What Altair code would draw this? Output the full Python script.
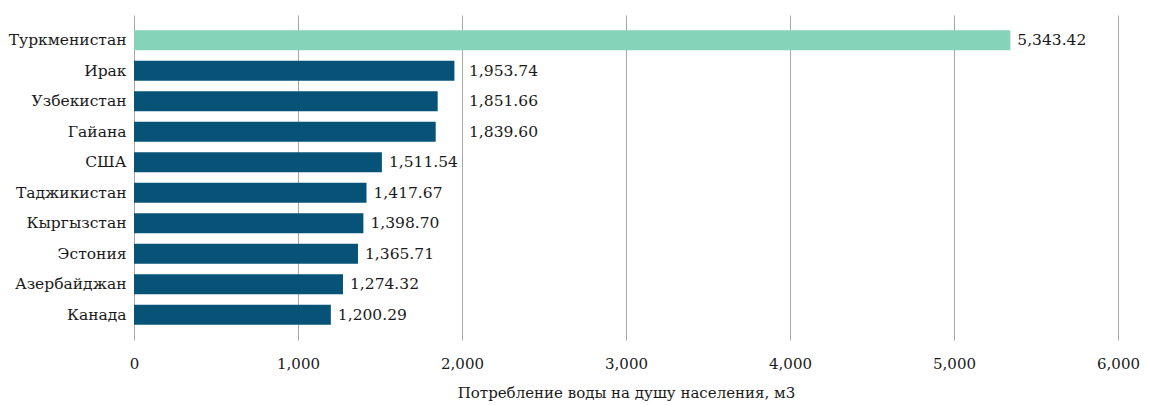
import altair as alt
import pandas as pd

countries = ["Туркменистан", "Ирак", "Узбекистан", "Гайана", "США", "Таджикистан",
             "Кыргызстан", "Эстония", "Азербайджан", "Канада"]
values = [5343.42, 1953.74, 1851.66, 1839.60, 1511.54, 1417.67, 1398.70, 1365.71, 1274.32, 1200.29]
highlight = ["Туркменистан"]
label_anchor = {"Ирак": 2000, "Узбекистан": 2000, "Гайана": 2000}

df = pd.DataFrame({"country": countries, "value": values})
df["kind"] = ["hi" if c in highlight else "lo" for c in countries]
df["label_x"] = [label_anchor.get(c, v) for c, v in zip(countries, values)]
df["label"] = [f"{v:,.2f}" for v in values]

FONT = "DejaVu Serif"
FS = 15.5

y = alt.Y("country:N", sort=countries, title=None,
          scale=alt.Scale(paddingInner=0.34, paddingOuter=0.5),
          axis=alt.Axis(domain=False, ticks=False, labelPadding=8, labelFontSize=FS,
                        labelColor="#1a1a1a", labelFont=FONT, grid=False))

bars = alt.Chart(df).mark_bar().encode(
    x=alt.X("value:Q", scale=alt.Scale(domain=[0, 6000]),
            title="Потребление воды на душу населения, м3",
            axis=alt.Axis(values=[0, 1000, 2000, 3000, 4000, 5000, 6000], format=",.0f",
                          grid=True, gridColor="#a6a6a6", gridWidth=1, domain=False,
                          ticks=False, labelPadding=16, labelFontSize=15, labelColor="#1a1a1a",
                          labelFlush=False, labelOverlap=False,
                          labelFont=FONT, titleFont=FONT, titleFontSize=15,
                          titleFontWeight="normal", titleColor="#1a1a1a", titlePadding=14)),
    y=y,
    color=alt.Color("kind:N", scale=alt.Scale(domain=["hi", "lo"], range=["#85d4b9", "#065377"]),
                    legend=None),
)

labels = alt.Chart(df).mark_text(align="left", baseline="middle", dx=7, font=FONT,
                                 fontSize=FS, color="#1a1a1a").encode(
    x=alt.X("label_x:Q"),
    y=alt.Y("country:N", sort=countries),
    text="label:N",
)

chart = (bars + labels).properties(
    width=984, height=325,
    autosize=alt.AutoSizeParams(type="none"),
    padding={"left": 126, "top": 7, "right": 23, "bottom": 66},
).configure_view(stroke=None)

chart.save("out.html", embed_options={"renderer": "svg", "actions": False})
